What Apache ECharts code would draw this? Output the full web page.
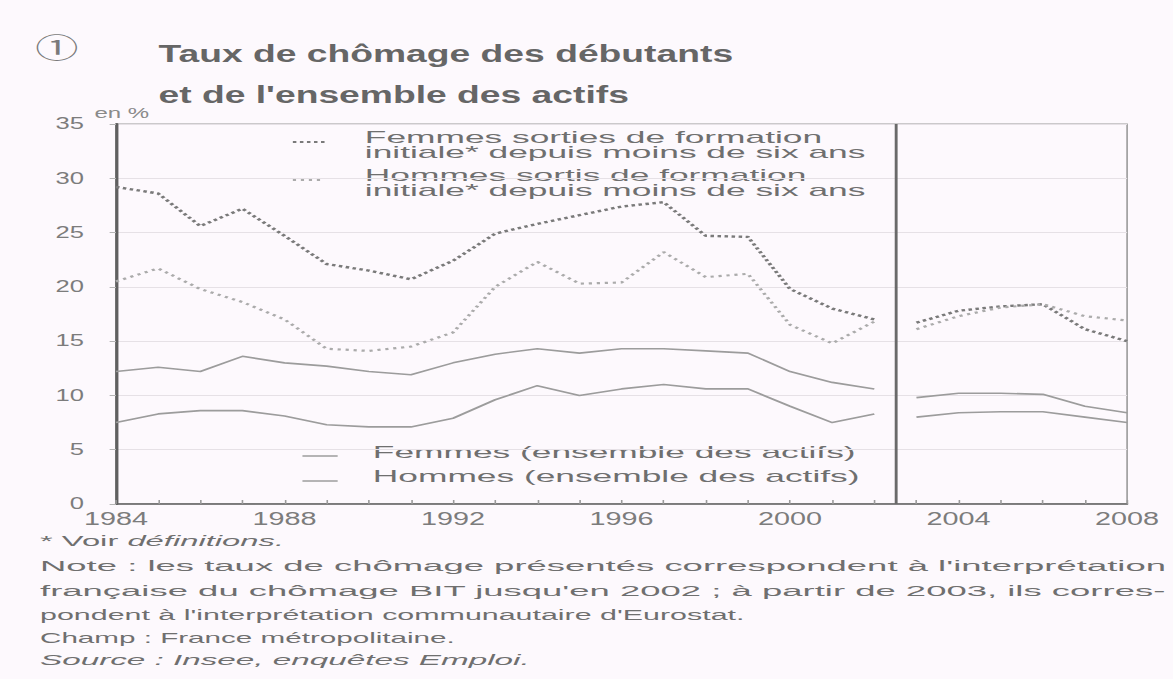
<!DOCTYPE html>
<html><head><meta charset="utf-8">
<script src="https://cdn.jsdelivr.net/npm/echarts@6/dist/echarts.min.js"></script>
<style>
html,body{margin:0;padding:0;background:#fdf9fd;overflow:hidden;width:1173px;height:679px}
#wrap{width:1173px;height:679px;overflow:hidden;position:relative}
#chart{width:733px;height:679px;transform:scaleX(1.6003);transform-origin:0 0}
</style></head><body><div id="wrap"><div id="chart"></div></div>
<script>
// Years before / after the 2002-2003 methodological break
const yearsA = [1984,1985,1986,1987,1988,1989,1990,1991,1992,1993,1994,1995,1996,1997,1998,1999,2000,2001,2002];
const yearsB = [2003,2004,2005,2006,2007,2008];
// Femmes sorties de formation initiale depuis moins de six ans
const femmesDebA = [29.2,28.6,25.6,27.2,24.7,22.1,21.5,20.7,22.4,24.9,25.8,26.6,27.4,27.8,24.7,24.6,19.8,18.0,17.0];
const femmesDebB = [16.7,17.8,18.2,18.4,16.1,15.0];
// Hommes sortis de formation initiale depuis moins de six ans
const hommesDebA = [20.5,21.7,19.8,18.6,17.0,14.3,14.1,14.5,15.8,20.0,22.3,20.3,20.4,23.2,20.9,21.2,16.5,14.8,16.8];
const hommesDebB = [16.1,17.3,18.1,18.4,17.3,16.9];
// Femmes (ensemble des actifs)
const femmesAllA = [12.2,12.6,12.2,13.6,13.0,12.7,12.2,11.9,13.0,13.8,14.3,13.9,14.3,14.3,14.1,13.9,12.2,11.2,10.6];
const femmesAllB = [9.8,10.2,10.2,10.1,9.0,8.4];
// Hommes (ensemble des actifs)
const hommesAllA = [7.5,8.3,8.6,8.6,8.1,7.3,7.1,7.1,7.9,9.6,10.9,10.0,10.6,11.0,10.6,10.6,9.0,7.5,8.3];
const hommesAllB = [8.0,8.4,8.5,8.5,8.0,7.5];
const breakYear = [2002.5];
const yTicks = {min:0, max:35, interval:5};
const xTicks = {min:1984, max:2008, labelEvery:4};

const FONT = 'Liberation Sans';
const TXT = '#6f6f6f';
const SX = 1.6003; // horizontal stretch of the page

const styleFDeb = {color:'#7a7a7a', width:2.4, type:[2.2,2.2]};
const styleHDeb = {color:'#ababab', width:2.2, type:[2,3]};
const styleAll  = {color:'#9c9c9c', width:1.6, type:'solid'};

function mk(name, years, vals, ls, extra){
  return Object.assign({
    type:'line', name:name, data: years.map((y,i)=>[y, vals[i]]),
    symbol:'none', showSymbol:false, silent:true, animation:false,
    lineStyle: ls, z:3
  }, extra||{});
}

// ---- notes block, each line fitted to the printed width ----
const mctx = document.createElement('canvas').getContext('2d');
const NOTE_SIZE = 14.5;
function tw(t, italic){ mctx.font = (italic?'italic ':'') + NOTE_SIZE + 'px "Liberation Sans"'; return mctx.measureText(t).width; }
const noteLines = [
  {segs:[['* Voir ',false],['définitions.',true]], y:541, right:284},
  {segs:[["Note : les taux de chômage présentés correspondent à l'interprétation",false]], y:566, right:1166},
  {segs:[["française du chômage BIT jusqu'en 2002 ; à partir de 2003, ils corres-",false]], y:591, right:1166},
  {segs:[["pondent à l'interprétation communautaire d'Eurostat.",false]], y:615, right:745},
  {segs:[['Champ : France métropolitaine.',false]], y:638, right:455},
  {segs:[['Source : Insee, enquêtes Emploi.',true]], y:660, right:530}
];
const NOTE_LEFT = 40 / SX;
const noteGraphics = [];
noteLines.forEach(line => {
  const target = (line.right - 40) / SX;
  const total = line.segs.reduce((a,s)=>a + tw(s[0], s[1]), 0);
  const k = target / total;
  let x = NOTE_LEFT;
  line.segs.forEach(s => {
    noteGraphics.push({type:'text', x:x, y:line.y, scaleX:k, style:{text:s[0], fontFamily:FONT, fontStyle:s[1]?'italic':'normal', fontSize:NOTE_SIZE, fill:TXT, align:'left', verticalAlign:'middle'}});
    x += tw(s[0], s[1]) * k;
  });
});

const chart = echarts.init(document.getElementById('chart'), null, {renderer:'svg', width:733, height:679});
const option = {
  backgroundColor:'#fdf9fd',
  animation:false,
  textStyle:{fontFamily:FONT},
  grid:{left:72.5, right:28.7, top:124, bottom:175, show:true, borderColor:'#9a9a9a', borderWidth:1, backgroundColor:'transparent'},
  xAxis:{
    type:'value', min:xTicks.min, max:xTicks.max, interval:1,
    axisLine:{show:true, lineStyle:{color:'#606060', width:1.6}},
    axisTick:{show:true, inside:true, length:4, lineStyle:{color:'#9a9a9a', width:1}},
    splitLine:{show:false},
    axisLabel:{color:'#7c7c7c', fontSize:18, margin:6, fontFamily:FONT,
      formatter:v => ((v - xTicks.min) % xTicks.labelEvery === 0 ? String(v) : '')}
  },
  yAxis:{
    type:'value', min:yTicks.min, max:yTicks.max, interval:yTicks.interval,
    axisLine:{show:true, lineStyle:{color:'#606060', width:2}},
    axisTick:{show:true, length:4, lineStyle:{color:'#b5b5b5'}},
    splitLine:{show:true, lineStyle:{color:'#e6e1e6', width:1}},
    axisLabel:{color:'#7c7c7c', fontSize:16, margin:20, fontFamily:FONT}
  },
  series:[
    mk('Femmes débutantes A', yearsA, femmesDebA, styleFDeb, {
      markLine:{silent:true, symbol:['none','none'], label:{show:false}, animation:false,
        lineStyle:{color:'#6a6a6a', width:1.8, type:'solid'},
        data: breakYear.map(b=>({xAxis:b}))}
    }),
    mk('Femmes débutantes B', yearsB, femmesDebB, styleFDeb),
    mk('Hommes débutants A', yearsA, hommesDebA, styleHDeb),
    mk('Hommes débutants B', yearsB, hommesDebB, styleHDeb),
    mk('Femmes actives A', yearsA, femmesAllA, styleAll),
    mk('Femmes actives B', yearsB, femmesAllB, styleAll),
    mk('Hommes actifs A', yearsA, hommesAllA, styleAll),
    mk('Hommes actifs B', yearsB, hommesAllB, styleAll)
  ],
  graphic:[
    {type:'text', x:35.5, y:46, style:{text:'①', fontFamily:'Noto Sans CJK JP', fontSize:27, fill:'#7a7a7a', align:'center', verticalAlign:'middle'}},
    {type:'text', x:99, y:54, scaleX:0.97, style:{text:'Taux de chômage des débutants', fontFamily:FONT, fontWeight:'bold', fontSize:24, fill:'#666666', align:'left', verticalAlign:'middle'}},
    {type:'text', x:99, y:95, scaleX:0.97, style:{text:"et de l'ensemble des actifs", fontFamily:FONT, fontWeight:'bold', fontSize:24, fill:'#666666', align:'left', verticalAlign:'middle'}},
    {type:'text', x:59, y:113, style:{text:'en %', fontFamily:FONT, fontSize:15, fill:'#8a8a8a', align:'left', verticalAlign:'middle'}},
    // top legend
    {type:'line', shape:{x1:183, y1:142, x2:203, y2:142}, style:{stroke:styleFDeb.color, lineWidth:2.2, lineDash:[2.2,2.2]}},
    {type:'text', x:228, y:130, scaleX:1.38, style:{text:'Femmes sorties de formation\ninitiale* depuis moins de six ans', fontFamily:FONT, fontSize:16, lineHeight:15, fill:TXT, align:'left', verticalAlign:'top'}},
    {type:'line', shape:{x1:183, y1:180, x2:203, y2:180}, style:{stroke:styleHDeb.color, lineWidth:2, lineDash:[2,3]}},
    {type:'text', x:228, y:168, scaleX:1.38, style:{text:'Hommes sortis de formation\ninitiale* depuis moins de six ans', fontFamily:FONT, fontSize:16, lineHeight:15, fill:TXT, align:'left', verticalAlign:'top'}},
    // bottom legend
    {type:'line', shape:{x1:189, y1:456, x2:211, y2:456}, style:{stroke:styleAll.color, lineWidth:1.4}},
    {type:'text', x:233, y:452, scaleX:1.38, style:{text:'Femmes (ensemble des actifs)', fontFamily:FONT, fontSize:16, fill:TXT, align:'left', verticalAlign:'middle'}},
    {type:'line', shape:{x1:189, y1:481, x2:211, y2:481}, style:{stroke:styleAll.color, lineWidth:1.4}},
    {type:'text', x:233, y:476, scaleX:1.38, style:{text:'Hommes (ensemble des actifs)', fontFamily:FONT, fontSize:16, fill:TXT, align:'left', verticalAlign:'middle'}}
  ].concat(noteGraphics)
};
chart.setOption(option);
</script></body></html>
